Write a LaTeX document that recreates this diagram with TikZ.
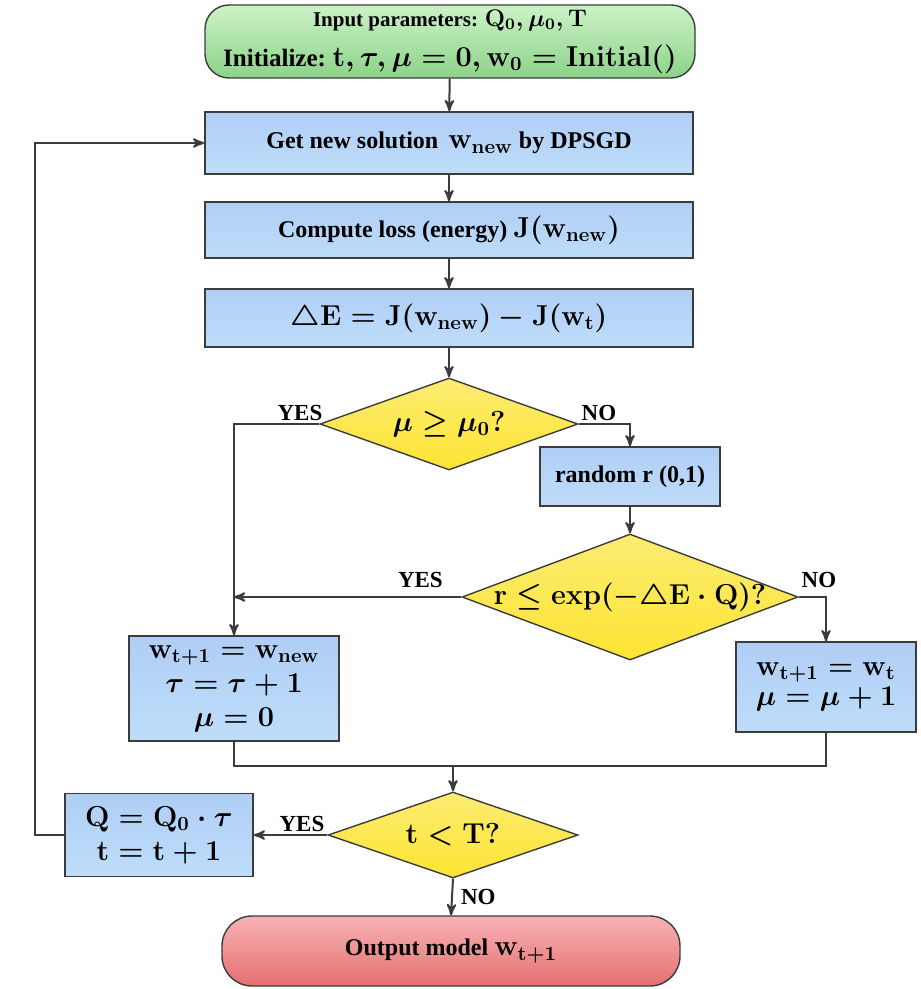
\documentclass[tikz,border=0pt]{standalone}
\usepackage{amsmath}
\usepackage[no-math]{fontspec}
\setmainfont{Liberation Serif}
\usepackage{tikz}
\usetikzlibrary{arrows, shapes.geometric, positioning}
\definecolor{colorLine}{HTML}{3C3C3C}
\definecolor{colorBoxTop}{HTML}{B0CEF5}
\definecolor{colorBoxBot}{HTML}{BEDDFA}
\definecolor{colorDecTop}{HTML}{FCEC72}
\definecolor{colorDecBot}{HTML}{FDE433}
\definecolor{colorStartTop}{HTML}{CCF3C7}
\definecolor{colorStartBot}{HTML}{8CD289}
\definecolor{colorEndTop}{HTML}{F9B2B4}
\definecolor{colorEndBot}{HTML}{E47070}
\newcommand{\fm}[2][14.4]{{\fontsize{#1}{#1}\selectfont\boldmath$#2$}}
\tikzset{
  procbox/.style={draw=colorLine, line width=0.7pt, top color=colorBoxTop, bottom color=colorBoxBot, inner sep=0pt, align=center, font=\fontsize{12}{16}\selectfont\bfseries},
  decision/.style={diamond, draw=colorLine, line width=0.7pt, top color=colorDecTop, bottom color=colorDecBot, inner sep=0pt, align=center},
  terminal/.style={draw=colorLine, line width=0.7pt, inner sep=0pt, align=center, font=\fontsize{12}{16}\selectfont\bfseries},
  flow/.style={->, colorLine, line width=1pt},
  lbl/.style={font=\fontsize{11.5}{13}\selectfont\bfseries, inner sep=1pt, text=black}
}

\begin{document}
\begin{tikzpicture}[>=stealth', x=0.5pt, y=-0.5pt]
\useasboundingbox (0,0) rectangle (920,989);
% main column
\node[terminal, rounded corners=12pt, top color=colorStartTop, bottom color=colorStartBot, minimum width=245pt, minimum height=36.5pt] (start) at (450,41.5) {{\fontsize{10.5}{12}\selectfont Input parameters:}\;\fm[12]{\mathbf{Q}_0,\mu_0,\mathbf{T}}\\[4pt] {\fontsize{12.5}{14}\selectfont Initialize:}\;\fm{\mathbf{t},\tau,\mu=0,\mathbf{w}_0=\mathbf{Initial}()}};
\node[procbox, minimum width=244pt, minimum height=31pt] (getnew) at (449,143) {Get new solution \,\fm{\mathbf{w}_{\mathrm{new}}} by DPSGD};
\node[procbox, minimum width=244pt, minimum height=28pt] (loss) at (449,230) {Compute loss (energy) \fm{\mathbf{J}(\mathbf{w}_{\mathrm{new}})}};
\node[procbox, minimum width=244pt, minimum height=29pt] (dE) at (449,318) {\fm{\triangle\mathbf{E}=\mathbf{J}(\mathbf{w}_{\mathrm{new}})-\mathbf{J}(\mathbf{w}_{\mathrm{t}})}};
\node[decision, aspect=2.8, minimum width=129pt, minimum height=46pt] (mu) at (449,424) {\fm{\mu\geq\mu_0\mathbf{?}}};
% right branch
\node[procbox, minimum width=90pt, minimum height=29.5pt] (rnd) at (630,476.5) {random r (0,1)};
\node[decision, aspect=2.67, inner xsep=-6pt, minimum width=168pt, minimum height=63pt] (rexp) at (630,597) {\fm{\mathbf{r}\leq\mathbf{exp}(-\triangle\mathbf{E}\cdot\mathbf{Q})\mathbf{?}}};
\node[procbox, minimum width=105pt, minimum height=52.5pt] (upd) at (234,688.5) {\fm{\mathbf{w}_{\mathrm{t+1}}=\mathbf{w}_{\mathrm{new}}}\\[1pt] \fm{\tau=\tau+1}\\[1pt] \fm{\mu=0}};
\node[procbox, minimum width=90pt, minimum height=45pt] (keep) at (826,687) {\fm{\mathbf{w}_{\mathrm{t+1}}=\mathbf{w}_{\mathrm{t}}}\\[-1pt] \fm{\mu=\mu+1}};
% bottom
\node[decision, aspect=2.9, minimum width=125pt, minimum height=43pt] (tT) at (453,835) {\fm{\mathbf{t}<\mathbf{T?}}};
\node[procbox, minimum width=94pt, minimum height=41.5pt] (qup) at (159,835) {\fm{\mathbf{Q}=\mathbf{Q}_0\cdot\tau}\\[1pt] \fm{\mathbf{t}=\mathbf{t}+1}};
\node[terminal, rounded corners=15pt, top color=colorEndTop, bottom color=colorEndBot, minimum width=229pt, minimum height=35pt] (out) at (451,951) {Output model \fm{\mathbf{w}_{\mathrm{t+1}}}};
\coordinate (join) at (453,766);
\coordinate (back) at (35,835);

\draw [flow] (start) -- (getnew);
\draw [flow] (getnew) -- (loss);
\draw [flow] (loss) -- (dE);
\draw [flow] (dE) -- (mu);
\draw [flow] (mu.west) -| node [lbl, above left, pos=0, xshift=3pt] {YES} (upd.north);
\draw [flow] (mu.east) -| node [lbl, above right, pos=0] {NO} (rnd.north);
\draw [flow] (rnd) -- (rexp);
\draw [flow] (rexp.west) -- node [lbl, above=3pt, pos=0.18] {YES} (upd.north |- rexp.west);
\draw [flow] (rexp.east) -| node [lbl, above right, pos=0, yshift=3pt] {NO} (keep.north);
\draw [colorLine, line width=1pt] (upd.south) |- (join) -| (keep.south);
\draw [flow] (join) -- (tT.north);
\draw [flow] (tT.west) -- node [lbl, above left, pos=0] {YES} (qup.east);
\draw [flow] (qup.west) -- (back) |- (getnew.west);
\draw [flow] (tT.south) -- node [lbl, right, xshift=3pt] {NO} (out.north);
\end{tikzpicture}
\end{document}
